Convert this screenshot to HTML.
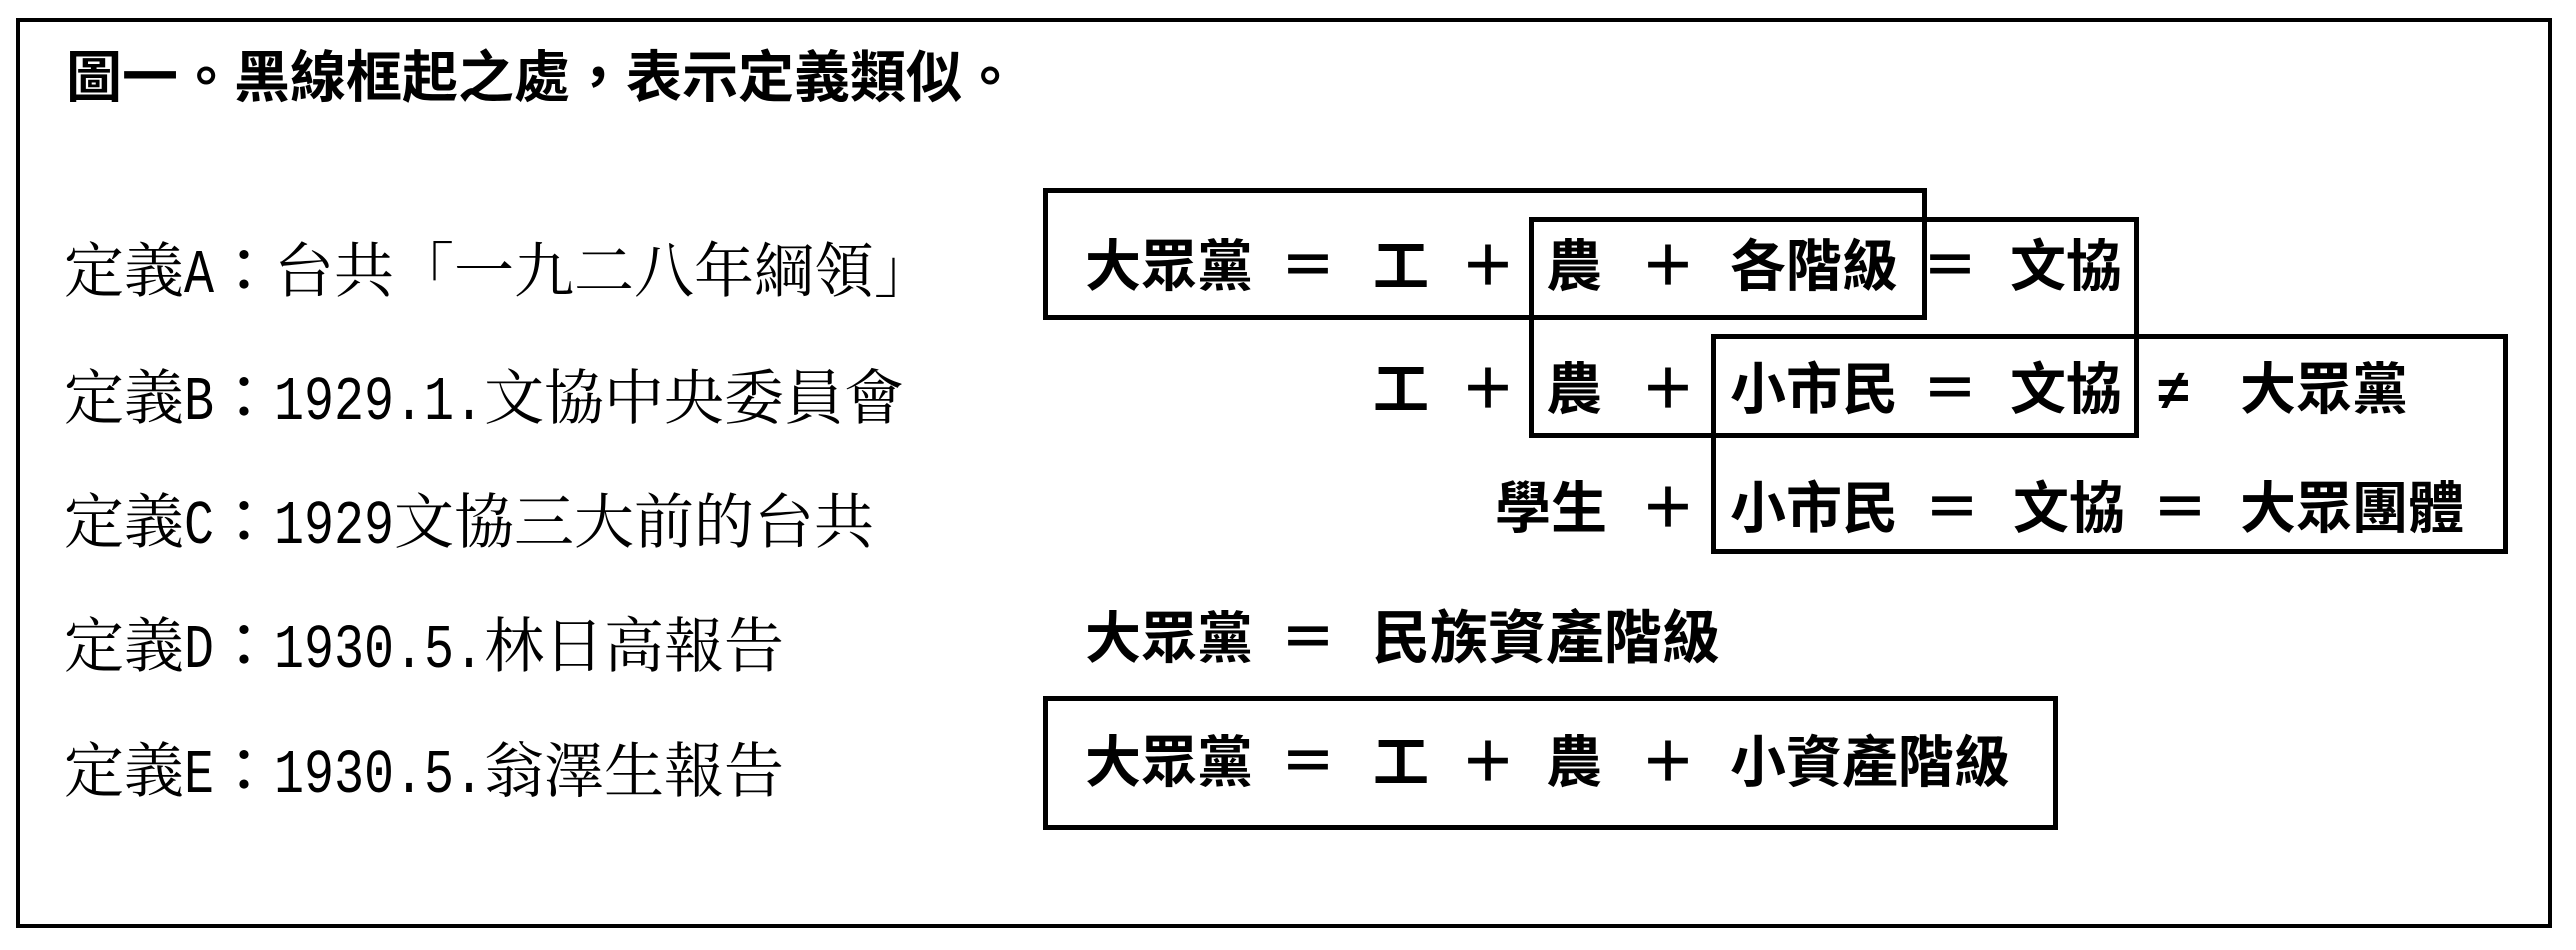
<!DOCTYPE html>
<html><head><meta charset="utf-8"><style>
html,body{margin:0;padding:0;background:#fff;}
body{width:2576px;height:950px;position:relative;overflow:hidden;}
.frame{position:absolute;left:16px;top:18px;width:2536px;height:910px;border:4px solid #000;box-sizing:border-box;}
.t{position:absolute;white-space:nowrap;line-height:60px;height:60px;}
.title{font-family:"Liberation Sans","Noto Sans CJK TC",sans-serif;font-weight:700;font-size:56px;}
.lab{font-family:"Noto Serif CJK SC",serif;font-size:60px;}
.d{display:inline-block;font-family:"Liberation Mono",monospace;font-size:50px;transform:scaleY(1.25);transform-origin:50% 70%;}
.c{display:inline-block;width:60px;text-align:center;font-family:"Noto Sans CJK TC",sans-serif;font-weight:400;}
.s{font-family:"Liberation Sans","Noto Sans CJK TC",sans-serif;font-weight:600;font-size:56px;}
.box{position:absolute;border:5px solid #000;box-sizing:border-box;}
</style></head><body>
<div class="frame"></div>
<div class="t title" style="left:66px;top:48px;">圖一。黑線框起之處，表示定義類似。</div>

<div class="t lab" style="left:64px;top:237px;">定義<span class="d">A</span><span class="c">：</span>台共「一九二八年綱領」</div>
<div class="t lab" style="left:64px;top:364px;">定義<span class="d">B</span><span class="c">：</span><span class="d">1929.1.</span>文協中央委員會</div>
<div class="t lab" style="left:64px;top:488px;">定義<span class="d">C</span><span class="c">：</span><span class="d">1929</span>文協三大前的台共</div>
<div class="t lab" style="left:64px;top:612px;">定義<span class="d">D</span><span class="c">：</span><span class="d">1930.5.</span>林日高報告</div>
<div class="t lab" style="left:64px;top:737px;">定義<span class="d">E</span><span class="c">：</span><span class="d">1930.5.</span>翁澤生報告</div>

<div class="box" style="left:1043px;top:188px;width:884px;height:132px;"></div>
<div class="box" style="left:1529px;top:217px;width:610px;height:221px;"></div>
<div class="box" style="left:1711px;top:334px;width:797px;height:220px;"></div>
<div class="box" style="left:1043px;top:696px;width:1015px;height:134px;"></div>

<!-- row A -->
<div class="t s" style="left:1085px;top:237px;">大眾黨</div>
<div class="t s" style="left:1280px;top:237px;">＝</div>
<div class="t s" style="left:1373px;top:237px;">工</div>
<div class="t s" style="left:1460px;top:237px;">＋</div>
<div class="t s" style="left:1546px;top:237px;">農</div>
<div class="t s" style="left:1640px;top:237px;">＋</div>
<div class="t s" style="left:1730px;top:237px;">各階級</div>
<div class="t s" style="left:1922px;top:237px;">＝</div>
<div class="t s" style="left:2010px;top:237px;">文協</div>
<!-- row B -->
<div class="t s" style="left:1373px;top:360px;">工</div>
<div class="t s" style="left:1460px;top:360px;">＋</div>
<div class="t s" style="left:1546px;top:360px;">農</div>
<div class="t s" style="left:1640px;top:360px;">＋</div>
<div class="t s" style="left:1730px;top:360px;">小市民</div>
<div class="t s" style="left:1922px;top:360px;">＝</div>
<div class="t s" style="left:2010px;top:360px;">文協</div>
<div class="t s" style="left:2158px;top:360px;">≠</div>
<div class="t s" style="left:2240px;top:360px;">大眾黨</div>
<!-- row C -->
<div class="t s" style="left:1495px;top:479px;">學生</div>
<div class="t s" style="left:1640px;top:479px;">＋</div>
<div class="t s" style="left:1730px;top:479px;">小市民</div>
<div class="t s" style="left:1924px;top:479px;">＝</div>
<div class="t s" style="left:2013px;top:479px;">文協</div>
<div class="t s" style="left:2152px;top:479px;">＝</div>
<div class="t s" style="left:2240px;top:479px;">大眾團體</div>
<!-- row D -->
<div class="t s" style="left:1085px;top:609px;">大眾黨</div>
<div class="t s" style="left:1280px;top:609px;">＝</div>
<div class="t s" style="left:1372px;top:609px;font-weight:700;font-size:58px;">民族資產階級</div>
<!-- row E -->
<div class="t s" style="left:1085px;top:733px;">大眾黨</div>
<div class="t s" style="left:1280px;top:733px;">＝</div>
<div class="t s" style="left:1373px;top:733px;">工</div>
<div class="t s" style="left:1460px;top:733px;">＋</div>
<div class="t s" style="left:1546px;top:733px;">農</div>
<div class="t s" style="left:1640px;top:733px;">＋</div>
<div class="t s" style="left:1730px;top:733px;">小資產階級</div>
</body></html>
